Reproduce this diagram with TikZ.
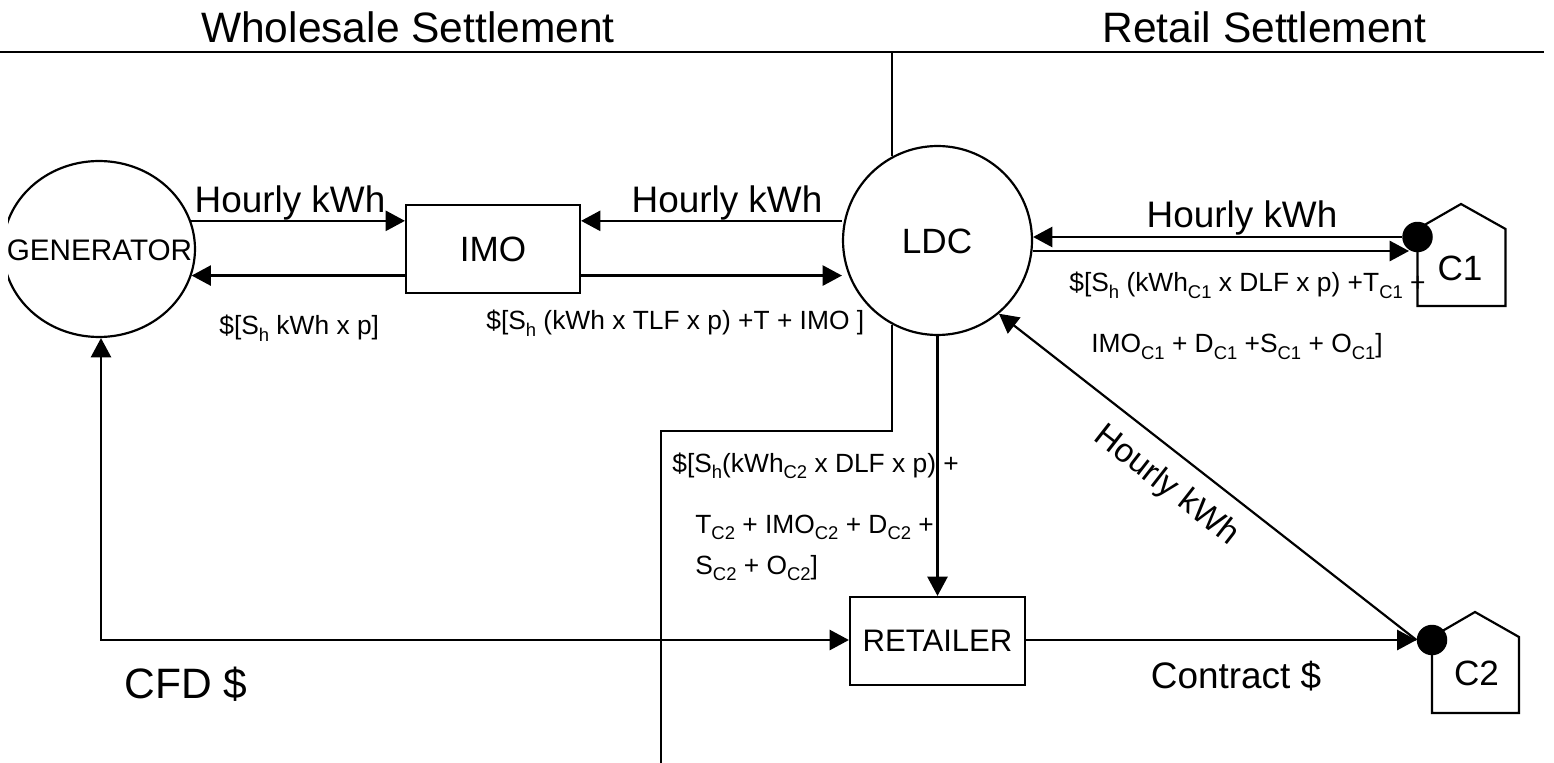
\documentclass[tikz,border=0pt]{standalone}
\usepackage{fontspec}
\setmainfont{Liberation Sans}
\usepackage{tikz}
\usetikzlibrary{arrows.meta,shapes.geometric}
\newcommand{\lowtxt}[1]{\raisebox{-3.6pt}{\fontsize{10.5}{10.5}\selectfont #1}}
\tikzset{
  party/.style={ellipse,draw=black,line width=1.25pt,inner sep=0pt},
  unit/.style={rectangle,draw=black,line width=1.25pt,inner sep=0pt},
  link/.style={draw=black,line width=1.25pt,-{Triangle[length=11pt,width=11.5pt]}},
  bothway/.style={draw=black,line width=1.25pt,{Triangle[length=11pt,width=11.5pt]}-{Triangle[length=11pt,width=11.5pt]}},
  rule/.style={draw=black,line width=1.25pt},
  house/.style={draw=black,line width=1.25pt,line join=miter},
  meter/.style={circle,fill=black,inner sep=0pt,minimum size=0.61cm},
  head/.style={font=\fontsize{24.2}{26}\selectfont,anchor=base,inner sep=0pt},
  flow/.style={font=\fontsize{21}{24}\selectfont,anchor=base,inner sep=0pt},
  money/.style={font=\fontsize{15}{17}\selectfont,anchor=base west,inner sep=0pt},
}
\begin{document}
\begin{tikzpicture}[x=0.02cm,y=-0.02cm]
\useasboundingbox (0,0) rectangle (1554,763);
% units
\node[party,minimum width=3.84cm,minimum height=3.52cm] (gen) at (99,249) {};
\node[party,minimum width=3.78cm,minimum height=3.78cm] (ldc) at (937.5,240.5) {};
\node[unit,minimum width=3.48cm,minimum height=1.76cm,font=\fontsize{20}{22}\selectfont] (imo) at (493,249) {IMO};
\node[unit,minimum width=3.5cm,minimum height=1.76cm,font=\fontsize{17.7}{20}\selectfont] (retailer) at (937.5,641) {RETAILER};
\fill[white] (0,200) rectangle (7.5,300);
\node[font=\fontsize{16.9}{18}\selectfont] (gentxt) at (99.5,250) {GENERATOR};
\node[font=\fontsize{20}{22}\selectfont] (ldctxt) at (937,241) {LDC};
% customers
\draw[house] (1417.5,229) -- (1461,204) -- (1505.5,229) -- (1505.5,306) -- (1417.5,306) -- cycle;
\draw[house] (1432,637) -- (1475,612) -- (1519,637) -- (1519,713) -- (1432,713) -- cycle;
\node[font=\fontsize{20}{22}\selectfont,anchor=base,inner sep=0pt] (cone) at (1460,281) {C1};
\node[font=\fontsize{20}{22}\selectfont,anchor=base,inner sep=0pt] (ctwo) at (1476.5,685) {C2};
\coordinate (rulel) at (0,52);
\coordinate (ruler) at (1544,52);
\coordinate (ruletop) at (892,52);
\coordinate (split) at (661,431);
\coordinate (splitend) at (661,763);
\coordinate (cin) at (1409,251);
\coordinate (fromgen) at (101,640);
% settlement lines
\draw[rule] (rulel) -- (ruler);
\draw[rule] (ruletop) -- (ruletop |- ldc.118);
\draw[rule] (ruletop |- ldc.-118) |- (split) -- (splitend);
% flows
\draw[link] (gen.17) -- (gen.17 -| imo.west);
\draw[link] (gen.-16 -| imo.west) -- (gen.-16);
\draw[link] (gen.17 -| ldc.west) -- (gen.17 -| imo.east);
\draw[link] (gen.-16 -| imo.east) -- (gen.-16 -| ldc.west);
\draw[link] (cin -| ldc.east) -- (cin);
\draw[bothway] (fromgen |- gen.south) |- (fromgen) -- (retailer.west |- fromgen);
\draw[link] (ldc.south) -- (retailer.north);
\node[meter] (mone) at (1417.5,237) {};
\node[meter] (mtwo) at (1432,640) {};
\draw[link] (mone) -- (mone -| ldc.east);
\draw[link] (retailer.east |- mtwo) -- (mtwo.west);
\draw[link] (mtwo.west) -- (ldc.-50);
% labels
\node[head] (wholesale) at (408,43) {Wholesale Settlement};
\node[head] (retail) at (1264.5,43) {Retail Settlement};
\node[flow] (hgen) at (290,213) {Hourly kWh};
\node[flow] (hldc) at (727,213) {Hourly kWh};
\node[flow] (hone) at (1242,228) {Hourly kWh};
\node[flow,anchor=center,font=\fontsize{19}{21}\selectfont,rotate=-38] (htwo) at (1166,486) {Hourly kWh};
\node[flow] (contract) at (1236,688) {Contract \$};
\node[head] (cfd) at (186,698) {CFD \$};
\node[money] (mgen) at (219,335) {\$[S\lowtxt{h} kWh x p]};
\node[money] (mimo) at (486,330) {\$[S\lowtxt{h} (kWh x TLF x p) +T + IMO ]};
\node[money] (mcone) at (1069,292) {\$[S\lowtxt{h} (kWh\lowtxt{C1} x DLF x p) +T\lowtxt{C1} +};
\node[money] (mctwo) at (1091,353) {IMO\lowtxt{C1} + D\lowtxt{C1} +S\lowtxt{C1} + O\lowtxt{C1}]};
\node[money] (mret) at (672,472) {\$[S\lowtxt{h}(kWh\lowtxt{C2} x DLF x p) +};
\node[money] (mreta) at (695,533) {T\lowtxt{C2} + IMO\lowtxt{C2} + D\lowtxt{C2} +};
\node[money] (mretb) at (695,574) {S\lowtxt{C2} + O\lowtxt{C2}]};
\end{tikzpicture}
\end{document}
